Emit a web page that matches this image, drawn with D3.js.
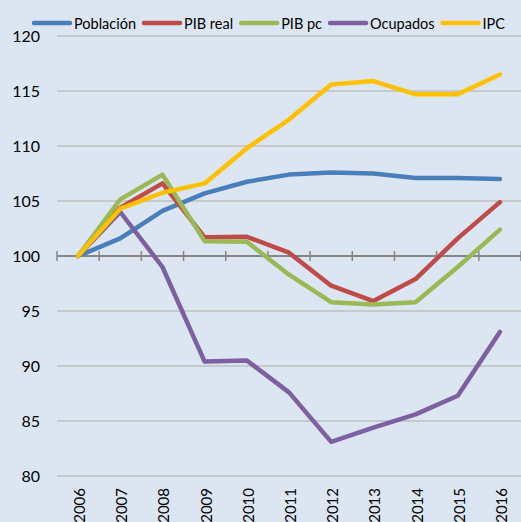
<!DOCTYPE html>
<html>
<head>
<meta charset="utf-8">
<script src="https://cdn.jsdelivr.net/npm/d3@7"></script>
<style>
  body { margin: 0; background: #dce6f2; }
  text { font-family: Lato, "Liberation Sans", Arial, sans-serif; fill: #000; }
</style>
</head>
<body>
<div id="chart"></div>
<script>
var years = ["2006", "2007", "2008", "2009", "2010", "2011", "2012", "2013", "2014", "2015", "2016"];
var poblacion = [100, 101.6, 104.1, 105.7, 106.75, 107.4, 107.6, 107.5, 107.1, 107.1, 107.0];
var pibReal = [100, 104.4, 106.6, 101.7, 101.75, 100.3, 97.3, 95.9, 97.9, 101.6, 104.9];
var pibPc = [100, 105.15, 107.4, 101.35, 101.3, 98.3, 95.8, 95.6, 95.8, 99.0, 102.4];
var ocupados = [100, 104.0, 99.0, 90.4, 90.5, 87.6, 83.1, 84.4, 85.6, 87.3, 93.1];
var ipc = [100, 104.3, 105.75, 106.6, 109.8, 112.4, 115.6, 115.9, 114.7, 114.7, 116.5];
var yTicks = [80, 85, 90, 95, 100, 105, 110, 115, 120];

var series = [
    { name: "Población", values: poblacion, color: "#4a7ebb" },
    { name: "PIB real", values: pibReal, color: "#be4b48" },
    { name: "PIB pc", values: pibPc, color: "#98b954" },
    { name: "Ocupados", values: ocupados, color: "#7d60a0" },
    { name: "IPC", values: ipc, color: "#ffc000" }
];

var width = 521,
    height = 522;

var svg = d3.select("#chart")
    .append("svg")
    .attr("width", width)
    .attr("height", height)

var x = d3.scaleBand().domain(years).range([57, 521])
var y = d3.scaleLinear().domain([80, 120]).range([476, 36])

// gridlines
svg.selectAll(".grid")
    .data(yTicks.filter(function(d) { return d != 100 }))
    .enter().append("line")
    .attr("class", "grid")
    .attr("x1", 57)
    .attr("x2", width)
    .attr("y1", function(d) { return y(d) })
    .attr("y2", function(d) { return y(d) })
    .attr("stroke", "#bfbfbf")
    .attr("stroke-width", 1.5)

// y labels
svg.selectAll(".ylab")
    .data(yTicks)
    .enter().append("text")
    .attr("class", "ylab")
    .attr("x", 40)
    .attr("y", function(d) { return y(d) })
    .attr("dy", "0.38em")
    .attr("text-anchor", "end")
    .style("font-size", "16px")
    .text(function(d) { return d })

// category axis at 100
var axisY = y(100)
svg.append("line")
    .attr("x1", 57)
    .attr("x2", width)
    .attr("y1", axisY)
    .attr("y2", axisY)
    .attr("stroke", "#868686")
    .attr("stroke-width", 2)

var bounds = years.map(function(d) { return x(d) }).concat([x.range()[1]])
svg.selectAll(".tick")
    .data(bounds)
    .enter().append("line")
    .attr("x1", function(d) { return d })
    .attr("x2", function(d) { return d })
    .attr("y1", axisY - 5)
    .attr("y2", axisY + 5)
    .attr("stroke", "#868686")
    .attr("stroke-width", 1.5)

// x labels (rotated, they run off the bottom like the original)
svg.selectAll(".xlab")
    .data(years)
    .enter().append("text")
    .attr("class", "xlab")
    .attr("transform", function(d) {
        return "translate(" + (x(d) + x.bandwidth() / 2 + 7) + ",488) rotate(-90)"
    })
    .attr("text-anchor", "end")
    .style("font-size", "15px")
    .text(function(d) { return d })

// lines
var line = d3.line()
    .x(function(d, i) { return x(years[i]) + x.bandwidth() / 2 })
    .y(function(d) { return y(d) })

svg.selectAll(".series")
    .data(series)
    .enter().append("path")
    .attr("class", "series")
    .attr("d", function(d) { return line(d.values) })
    .attr("fill", "none")
    .attr("stroke", function(d) { return d.color })
    .attr("stroke-width", 4.5)
    .attr("stroke-linejoin", "round")
    .attr("stroke-linecap", "round")

// legend
var lx = 33
series.forEach(function(s) {
    svg.append("line")
        .attr("x1", lx + 1)
        .attr("x2", lx + 37)
        .attr("y1", 23)
        .attr("y2", 23)
        .attr("stroke", s.color)
        .attr("stroke-width", 4.5)
        .attr("stroke-linecap", "round")
    var t = svg.append("text")
        .attr("x", lx + 41)
        .attr("y", 23)
        .attr("dy", "0.38em")
        .style("font-size", "14.5px")
        .text(s.name)
    lx = lx + 41 + t.node().getComputedTextLength() + 7
})
</script>
</body>
</html>
